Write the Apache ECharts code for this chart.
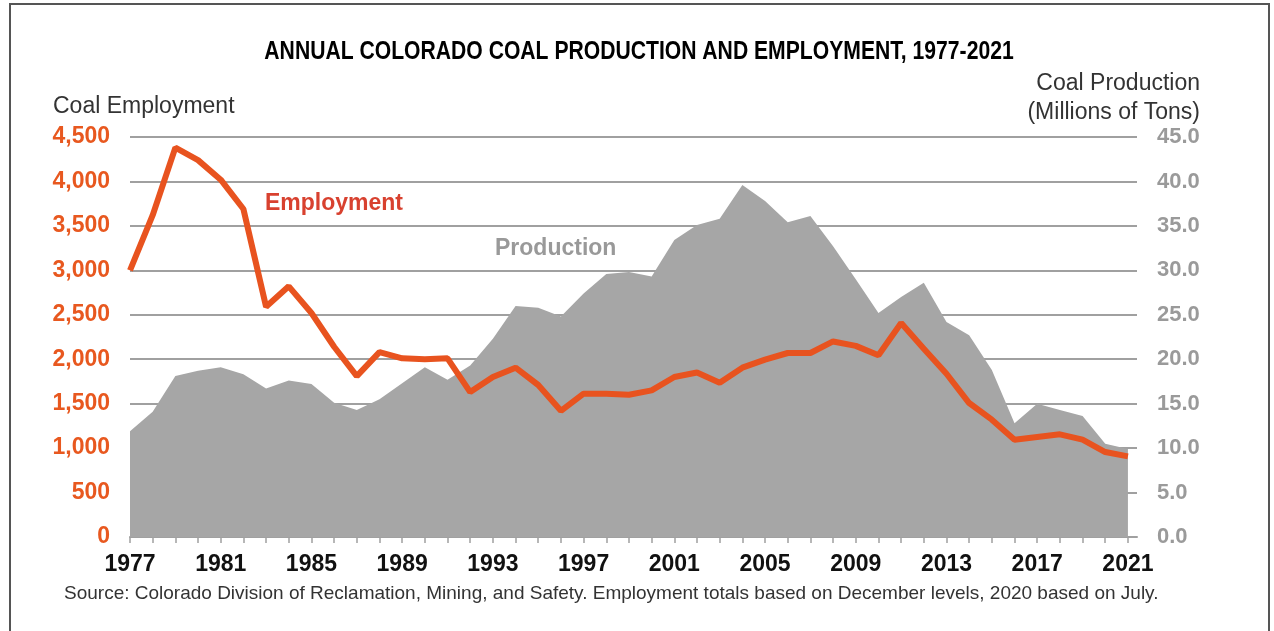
<!DOCTYPE html>
<html>
<head>
<meta charset="utf-8">
<script src="https://cdn.jsdelivr.net/npm/echarts@6/dist/echarts.min.js"></script>
<style>
html,body{margin:0;padding:0;background:#fff;}
#chart{width:1274px;height:631px;}
</style>
</head>
<body>
<div id="chart"></div>
<script>
const years = [1977,1978,1979,1980,1981,1982,1983,1984,1985,1986,1987,1988,1989,1990,1991,1992,1993,1994,1995,1996,1997,1998,1999,2000,2001,2002,2003,2004,2005,2006,2007,2008,2009,2010,2011,2012,2013,2014,2015,2016,2017,2018,2019,2020,2021];
const employment = [3000,3620,4380,4240,4020,3690,2590,2820,2520,2140,1810,2080,2010,2000,2010,1630,1800,1905,1710,1420,1612,1612,1600,1650,1800,1850,1736,1905,1995,2070,2070,2200,2150,2044,2407,2119,1837,1507,1320,1095,1125,1155,1095,956,907];
const production = [11.9,14.1,18.1,18.7,19.1,18.3,16.7,17.6,17.2,15.1,14.3,15.5,17.3,19.1,17.7,19.3,22.3,26.0,25.8,24.8,27.4,29.6,29.8,29.3,33.4,35.1,35.8,39.6,37.8,35.4,36.1,32.7,29.0,25.2,27.0,28.6,24.2,22.7,18.8,12.8,15.0,14.3,13.6,10.5,9.9];
const yearLabels = [1977,1981,1985,1989,1993,1997,2001,2005,2009,2013,2017,2021];

const chart = echarts.init(document.getElementById('chart'));
const txt = (x, y, text, font, fill, align, valign, sx) => ({
  type: 'text', x: x, y: y, silent: true, scaleX: sx || 1,
  style: { text: text, font: font, fill: fill, align: align, verticalAlign: valign, textAlign: align, textVerticalAlign: valign }
});
chart.setOption({
  animation: false,
  backgroundColor: '#ffffff',
  grid: { left: 130, right: 137, top: 137, bottom: 94 },
  xAxis: {
    type: 'value', min: 1977, max: 2021.4,
    axisLine: { show: true, lineStyle: { color: '#a0a0a0', width: 2 } },
    axisTick: { show: true, customValues: years, length: 6, lineStyle: { color: '#a0a0a0', width: 1.5 } },
    axisLabel: { customValues: yearLabels, formatter: v => String(v), color: '#111', fontWeight: 'bold', fontSize: 23, fontFamily: 'Liberation Sans, Arial, sans-serif', margin: 16 },
    splitLine: { show: false }
  },
  yAxis: [{
    type: 'value', min: 0, max: 4500, interval: 500, position: 'left',
    axisLine: { show: false }, axisTick: { show: false },
    axisLabel: { formatter: v => v.toLocaleString('en-US'), color: '#e8581f', fontWeight: 'bold', fontSize: 23, fontFamily: 'Liberation Sans, Arial, sans-serif', margin: 20 },
    splitLine: { show: true, lineStyle: { color: '#a0a0a0', width: 2 } }
  }, {
    type: 'value', min: 0, max: 45, interval: 5, position: 'right',
    axisLine: { show: false }, axisTick: { show: false },
    axisLabel: { formatter: v => v.toFixed(1), color: '#9a9a9a', fontWeight: 'bold', fontSize: 22, fontFamily: 'Liberation Sans, Arial, sans-serif', margin: 20 },
    splitLine: { show: false }
  }],
  series: [{
    name: 'Production', type: 'line', yAxisIndex: 1, z: 1,
    data: years.map((y, i) => [y, production[i]]),
    symbol: 'none', lineStyle: { width: 0, color: '#a6a6a6' },
    areaStyle: { color: '#a6a6a6', opacity: 1 }
  }, {
    name: 'Employment', type: 'line', yAxisIndex: 0, z: 3,
    data: years.map((y, i) => [y, employment[i]]),
    symbol: 'none', lineStyle: { width: 6, color: '#e8531f' }
  }],
  graphic: [
    { type: 'rect', silent: true, shape: { x: 10, y: 4, width: 1259, height: 720 }, style: { fill: 'none', stroke: '#555', lineWidth: 2 } },
    txt(639, 52, 'ANNUAL COLORADO COAL PRODUCTION AND EMPLOYMENT, 1977-2021', 'bold 26px "Liberation Sans", Arial, sans-serif', '#000', 'center', 'middle', 0.813),
    txt(53, 107, 'Coal Employment', '23px "Liberation Sans", Arial, sans-serif', '#333', 'left', 'middle'),
    txt(1200, 84, 'Coal Production', '23px "Liberation Sans", Arial, sans-serif', '#333', 'right', 'middle'),
    txt(1200, 113, '(Millions of Tons)', '23px "Liberation Sans", Arial, sans-serif', '#333', 'right', 'middle'),
    txt(265, 204, 'Employment', 'bold 23px "Liberation Sans", Arial, sans-serif', '#d8412f', 'left', 'middle'),
    txt(495, 249, 'Production', 'bold 23px "Liberation Sans", Arial, sans-serif', '#999', 'left', 'middle'),
    txt(64, 594, 'Source: Colorado Division of Reclamation, Mining, and Safety. Employment totals based on December levels, 2020 based on July.', '19px "Liberation Sans", Arial, sans-serif', '#333', 'left', 'middle')
  ]
});
</script>
</body>
</html>
